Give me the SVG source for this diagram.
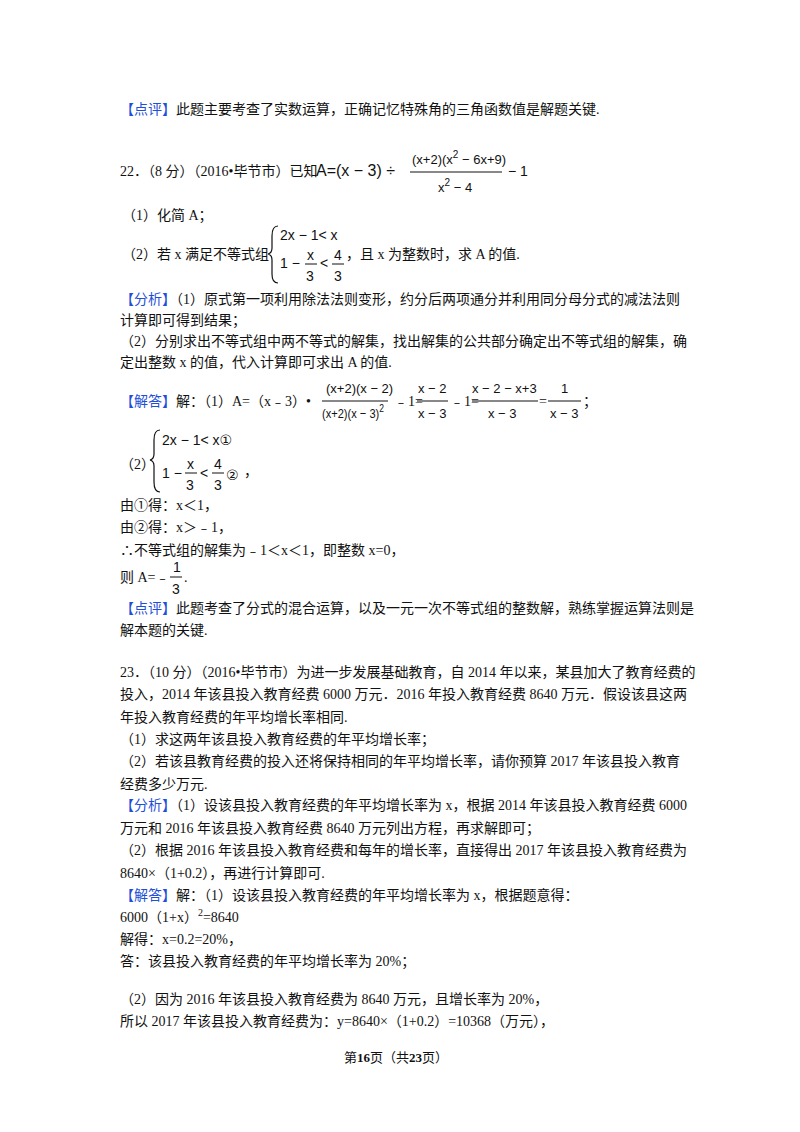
<svg xmlns="http://www.w3.org/2000/svg" width="800" height="1132" viewBox="0 0 800 1132">
<style>
text{font-family:"Liberation Serif","Noto Sans CJK SC",serif;font-size:14px;fill:#111}
.b{fill:#1f4fd8}
.m{font-family:"Liberation Sans","DejaVu Sans",sans-serif;font-size:14px}
.s{font-size:10px}
line{stroke:#111;stroke-width:1}
path{fill:none;stroke:#111;stroke-width:1.2}
</style>
<rect width="800" height="1132" fill="#fff"/>
<text x="120" y="114"><tspan class="b">【点评】</tspan>此题主要考查了实数运算，正确记忆特殊角的三角函数值是解题关键.</text>

<text x="120" y="176">22．（8 分）（2016•毕节市）已知</text>
<text class="m" x="316" y="176" style="font-size:16px">A=(x − 3) ÷</text>
<line x1="410" y1="172" x2="502" y2="172"/>
<text class="m" x="412" y="164" style="font-size:13px">(x+2)(x<tspan class="s" dy="-6">2</tspan><tspan dy="6"> − 6x+9)</tspan></text>
<text class="m" x="438" y="192" style="font-size:13px">x<tspan class="s" dy="-6">2</tspan><tspan dy="6"> − 4</tspan></text>
<text class="m" x="508" y="176">− 1</text>

<text x="122" y="220">（1）化简 A；</text>
<path d="M278 226 Q272 226 272 236 L272 248 Q272 253 268 254 Q272 255 272 260 L272 274 Q272 283 278 283"/>
<text x="122" y="259">（2）若 x 满足不等式组</text>
<text class="m" x="280" y="240">2x − 1&lt; x</text>
<text class="m" x="280" y="268">1 − </text>
<text class="m" x="307" y="260">x</text><line x1="305" y1="264" x2="317" y2="264"/><text class="m" x="306" y="281">3</text>
<text class="m" x="320" y="268">&lt;</text>
<text class="m" x="334" y="260">4</text><line x1="332" y1="264" x2="344" y2="264"/><text class="m" x="334" y="281">3</text>
<text x="346" y="259">，且 x 为整数时，求 A 的值.</text>

<text x="120" y="304"><tspan class="b">【分析】</tspan>（1）原式第一项利用除法法则变形，约分后两项通分并利用同分母分式的减法法则</text>
<text x="120" y="325">计算即可得到结果；</text>
<text x="120" y="346">（2）分别求出不等式组中两不等式的解集，找出解集的公共部分确定出不等式组的解集，确</text>
<text x="120" y="367">定出整数 x 的值，代入计算即可求出 A 的值.</text>

<text x="120" y="406"><tspan class="b">【解答】</tspan>解：（1）A=（x﹣3）•</text>
<line x1="322" y1="401" x2="388" y2="401"/>
<text class="m" x="326" y="393" style="font-size:13px">(x+2)(x − 2)</text>
<text class="m" x="322" y="418" style="font-size:13px" textLength="62" lengthAdjust="spacingAndGlyphs">(x+2)(x − 3)<tspan class="s" dy="-6">2</tspan></text>
<text x="394" y="406">﹣1=</text>
<line x1="417" y1="401" x2="448" y2="401"/>
<text class="m" x="418" y="393" style="font-size:13px">x − 2</text><text class="m" x="418" y="418" style="font-size:13px">x − 3</text>
<text x="450" y="406">﹣1=</text>
<line x1="472" y1="401" x2="538" y2="401"/>
<text class="m" x="472" y="393" style="font-size:13px">x − 2 − x+3</text><text class="m" x="488" y="418" style="font-size:13px">x − 3</text>
<text x="539" y="406">=</text>
<line x1="548" y1="401" x2="581" y2="401"/>
<text class="m" x="561" y="393" style="font-size:13px">1</text><text class="m" x="550" y="418" style="font-size:13px">x − 3</text>
<text x="583" y="406">；</text>

<path d="M160 430 Q154 430 154 440 L154 454 Q154 459 150 460 Q154 461 154 466 L154 482 Q154 492 160 492"/>
<text x="120" y="469">（2）</text>
<text class="m" x="162" y="445">2x − 1&lt; x①</text>
<text class="m" x="162" y="478">1 − </text>
<text class="m" x="187" y="469">x</text><line x1="185" y1="473" x2="197" y2="473"/><text class="m" x="186" y="490">3</text>
<text class="m" x="200" y="478">&lt;</text>
<text class="m" x="214" y="469">4</text><line x1="212" y1="473" x2="224" y2="473"/><text class="m" x="214" y="490">3</text>
<text class="m" x="226" y="480">②</text><text x="244" y="476">，</text>
<text x="120" y="510">由①得：x＜1，</text>
<text x="120" y="532">由②得：x＞﹣1，</text>
<text x="120" y="555">∴不等式组的解集为﹣1＜x＜1，即整数 x=0，</text>
<text x="120" y="582">则 A=﹣</text>
<text class="m" x="173" y="572">1</text><line x1="170" y1="577" x2="182" y2="577"/><text class="m" x="172" y="594">3</text>
<text x="184" y="582">.</text>
<text x="120" y="613"><tspan class="b">【点评】</tspan>此题考查了分式的混合运算，以及一元一次不等式组的整数解，熟练掌握运算法则是</text>
<text x="120" y="635">解本题的关键.</text>

<text x="120" y="677">23．（10 分）（2016•毕节市）为进一步发展基础教育，自 2014 年以来，某县加大了教育经费的</text>
<text x="120" y="699">投入，2014 年该县投入教育经费 6000 万元．2016 年投入教育经费 8640 万元．假设该县这两</text>
<text x="120" y="722">年投入教育经费的年平均增长率相同.</text>
<text x="120" y="744">（1）求这两年该县投入教育经费的年平均增长率；</text>
<text x="120" y="766">（2）若该县教育经费的投入还将保持相同的年平均增长率，请你预算 2017 年该县投入教育</text>
<text x="120" y="789">经费多少万元.</text>
<text x="120" y="810"><tspan class="b">【分析】</tspan>（1）设该县投入教育经费的年平均增长率为 x，根据 2014 年该县投入教育经费 6000</text>
<text x="120" y="833">万元和 2016 年该县投入教育经费 8640 万元列出方程，再求解即可；</text>
<text x="120" y="855">（2）根据 2016 年该县投入教育经费和每年的增长率，直接得出 2017 年该县投入教育经费为</text>
<text x="120" y="878">8640×（1+0.2），再进行计算即可.</text>
<text x="120" y="900"><tspan class="b">【解答】</tspan>解：（1）设该县投入教育经费的年平均增长率为 x，根据题意得：</text>
<text x="120" y="922">6000（1+x）<tspan class="s" dy="-6">2</tspan><tspan dy="6">=8640</tspan></text>
<text x="120" y="944">解得：x=0.2=20%，</text>
<text x="120" y="966">答：该县投入教育经费的年平均增长率为 20%；</text>
<text x="120" y="1004">（2）因为 2016 年该县投入教育经费为 8640 万元，且增长率为 20%，</text>
<text x="120" y="1026">所以 2017 年该县投入教育经费为：y=8640×（1+0.2）=10368（万元），</text>
<text x="344" y="1062" style="font-size:13px">第<tspan font-weight="bold">16</tspan>页（共<tspan font-weight="bold">23</tspan>页）</text>
</svg>
